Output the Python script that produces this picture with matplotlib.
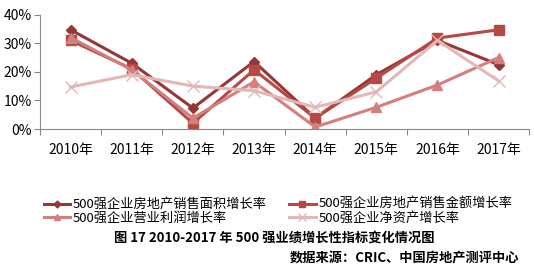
import matplotlib.pyplot as plt
from matplotlib.ticker import PercentFormatter

plt.rcParams['font.family'] = ['Noto Sans CJK SC', 'DejaVu Sans']

years = ['2010年', '2011年', '2012年', '2013年', '2014年', '2015年', '2016年', '2017年']
sales_area = [34.7, 23.0, 7.3, 23.6, 3.8, 19.0, 31.0, 22.5]
sales_amount = [31.0, 21.0, 2.0, 20.7, 3.8, 17.8, 31.8, 34.7]
op_profit = [32.0, 20.7, 3.8, 16.5, 0.7, 7.6, 15.4, 25.0]
net_assets = [14.7, 19.0, 15.0, 13.4, 7.6, 13.0, 31.0, 16.8]

labels = ['500强企业房地产销售面积增长率', '500强企业房地产销售金额增长率',
          '500强企业营业利润增长率', '500强企业净资产增长率']

fig = plt.figure(figsize=(5.34, 2.66), dpi=100)
ax = fig.add_axes([0.075, 0.515, 0.916, 0.43])

x = range(len(years))
l1, = ax.plot(x, sales_area, color='#953735', marker='D', markersize=5, linewidth=2.2, label=labels[0])
l2, = ax.plot(x, sales_amount, color='#B64845', marker='s', markersize=7, linewidth=2.2, label=labels[1])
l3, = ax.plot(x, op_profit, color='#D27F7D', marker='^', markersize=7, linewidth=2.2, label=labels[2])
l4, = ax.plot(x, net_assets, color='#E3B7B6', marker='x', markersize=8, markeredgewidth=1, linewidth=2.2, label=labels[3])

ax.set_xlim(-0.5, len(years) - 0.5)
ax.set_ylim(0, 40)
ax.set_yticks([0, 10, 20, 30, 40])
ax.yaxis.set_major_formatter(PercentFormatter(decimals=0))
ax.set_xticks([i - 0.5 for i in range(len(years) + 1)])
ax.set_xticklabels([])
ax.set_xticks(list(x), minor=True)
ax.set_xticklabels(years, minor=True)
ax.tick_params(axis='x', which='minor', length=0, pad=10, labelsize=10)
ax.tick_params(axis='x', which='major', length=4, color='#888888')
ax.tick_params(axis='y', length=4, color='#888888', labelsize=10, pad=2)

for s in ['top', 'right']:
    ax.spines[s].set_visible(False)
for s in ['left', 'bottom']:
    ax.spines[s].set_color('#888888')

# row-major order like the reference: matplotlib fills legend columns first
fig.legend([l1, l3, l2, l4], [labels[0], labels[2], labels[1], labels[3]],
           loc='upper left', bbox_to_anchor=(0.082, 0.255), ncol=2, frameon=False,
           fontsize=9.5, handlelength=2.0, handletextpad=0.2, columnspacing=1.7,
           labelspacing=0.05, borderaxespad=0, borderpad=0, markerscale=0.7)

fig.text(0.513, 0.105, '图 17 2010-2017 年 500 强业绩增长性指标变化情况图',
         ha='center', va='center', fontsize=9.5, fontweight='bold')
fig.text(0.972, 0.03, '数据来源：CRIC、中国房地产测评中心',
         ha='right', va='center', fontsize=9.5, fontweight='bold')

fig.savefig('out.png', dpi=100)
